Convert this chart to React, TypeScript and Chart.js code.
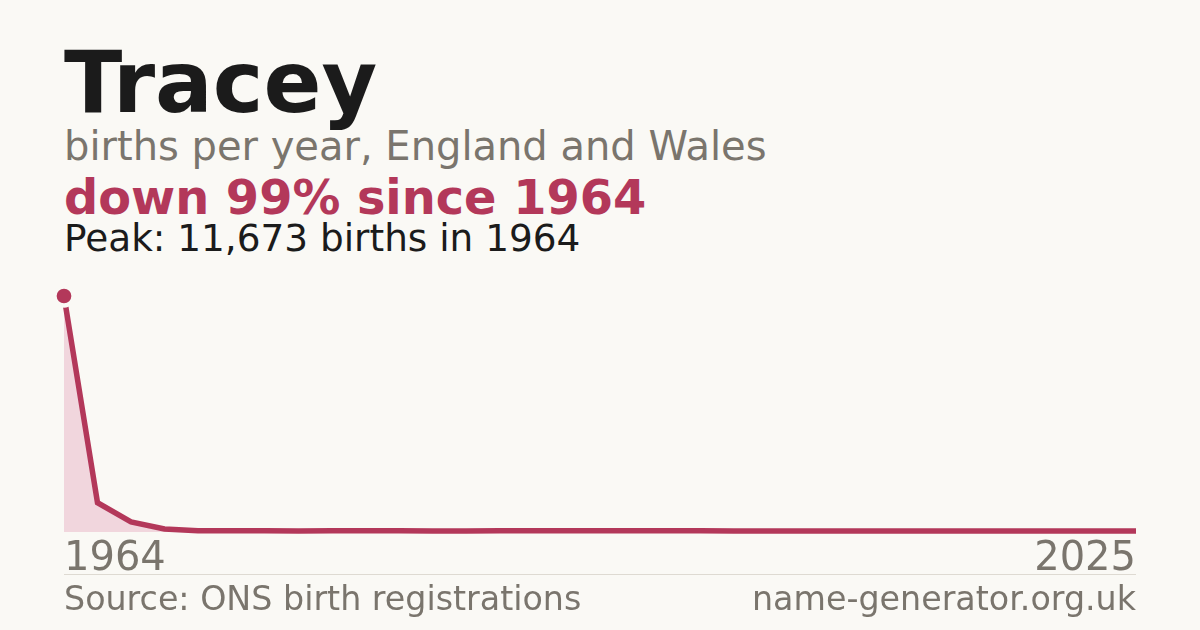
import { useEffect, useRef } from "react";
import { Chart, registerables } from "chart.js";

Chart.register(...registerables);

const years = [
  "1964", "1966", "1968", "1970", "1972", "1974", "1976", "1978", "1980", "1982",
  "1984", "1986", "1988", "1990", "1992", "1994", "1996", "1998", "2000", "2002",
  "2004", "2006", "2008", "2010", "2012", "2014", "2016", "2018", "2020", "2022",
  "2023", "2024", "2025",
];
const births = [
  11673, 1447, 499, 150, 62, 64, 60, 55, 58, 63, 57, 52, 55, 60, 62, 61, 63, 62,
  60, 58, 55, 52, 50, 50, 50, 50, 50, 50, 50, 50, 50, 50, 50,
];
const tickYears = ["1964", "2025"];

const BG = "#faf9f5";
const RED = "#b3385a";
const GREY = "#7a756d";
const FONT = "'DejaVu Sans', sans-serif";

function TrendChart() {
  const canvasRef = useRef<HTMLCanvasElement>(null);

  useEffect(() => {
    if (!canvasRef.current) return;
    const chart = new Chart(canvasRef.current, {
      type: "line",
      data: {
        labels: years,
        datasets: [
          {
            data: births,
            borderColor: RED,
            backgroundColor: "#f1d6dd",
            fill: "origin",
            borderWidth: 5.5,
            tension: 0,
            clip: false,
            pointRadius: (c) => (c.dataIndex === 0 ? 9.5 : 0),
            pointHoverRadius: 0,
            pointBackgroundColor: RED,
            pointBorderColor: BG,
            pointBorderWidth: 4.3,
          },
        ],
      },
      options: {
        responsive: true,
        maintainAspectRatio: false,
        animation: false,
        layout: { padding: { left: 64, right: 64, top: 16, bottom: 0 } },
        scales: {
          x: {
            grid: { display: false },
            border: { display: false },
            ticks: {
              autoSkip: false,
              maxRotation: 0,
              align: "inner",
              padding: -4,
              color: GREY,
              font: { family: FONT, size: 40 },
              callback: (_v, i) => (tickYears.includes(years[i]) ? years[i] : ""),
            },
          },
          y: { display: false, min: 0, max: 11673 },
        },
        plugins: { legend: { display: false }, tooltip: { enabled: false } },
      },
    });
    return () => chart.destroy();
  }, []);

  return (
    <div style={{ position: "absolute", left: 0, top: 280, width: 1200, height: 300 }}>
      <canvas ref={canvasRef} />
    </div>
  );
}

export default function App() {
  const text = (top: number, size: number, color: string, bold = false) => ({
    position: "absolute" as const,
    left: 64,
    top,
    fontSize: size,
    lineHeight: `${size}px`,
    color,
    fontWeight: bold ? 700 : 400,
    whiteSpace: "nowrap" as const,
  });
  return (
    <div style={{ position: "fixed", left: 0, top: 0, width: 1200, height: 630, background: BG, fontFamily: FONT, overflow: "hidden" }}>
      <div style={text(39.5, 85.5, "#1b1b1b", true)}>Tracey</div>
      <div style={text(125.5, 40, GREY)}>births per year, England and Wales</div>
      <div style={text(174.2, 47.8, RED, true)}>down 99% since 1964</div>
      <div style={text(220.4, 37.4, "#1b1b1b")}>Peak: 11,673 births in 1964</div>
      <TrendChart />
      <div style={{ position: "absolute", left: 64, top: 574, width: 1072, height: 1, background: "#dedad2" }} />
      <div style={text(581.8, 33.3, GREY)}>Source: ONS birth registrations</div>
      <div style={{ ...text(581.8, 33.3, GREY), left: "auto", right: 64 }}>name-generator.org.uk</div>
    </div>
  );
}
